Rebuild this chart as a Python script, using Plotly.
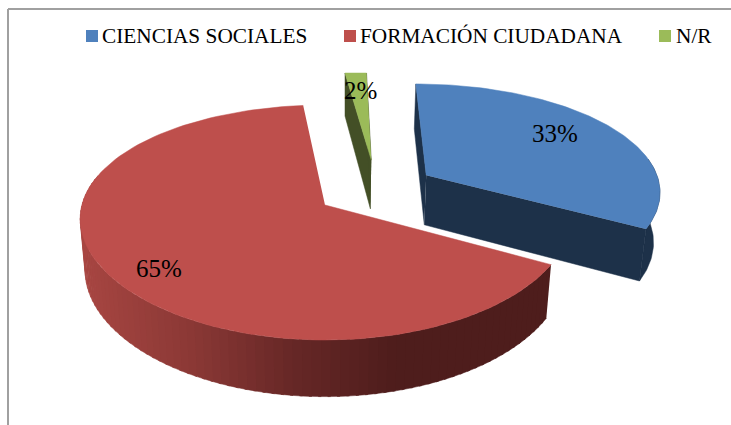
import numpy as np
import plotly.graph_objects as go

# Values (labels show them rounded)
categories = ["CIENCIAS SOCIALES", "FORMACIÓN CIUDADANA", "N/R"]
shares = [33.0, 65.4, 1.6]

top_colors = ["#4F81BD", "#BE4F4C", "#9BBB59"]
wall_colors = ["#1D3149", "#4E1D1C", "#434F26"]

# where each slice sits on the tilted disc (pull-out from the red apex)
pull_u = [0.43, 0.0, 0.2]
pull_v = [0.27, 0.0, 0.416]
radius = [0.98, 1.0, 1.0]
# the small slice looks wider in the source because of the 3D distortion
span_scale = [1.0, 1.0, 1.5]
clip_left = [0, 0, 345]
clip_top = [0, 0, 73]
clip_right = [731, 731, 372]

APEX_X, APEX_Y = 325, 205
F, G, H = 243, 114.9, 52
KX, KY, M = 0.12, 0.149, 0.02

legend_square_x = [92, 350, 665]
legend_text_x = [100, 358, 674]
LEGEND_Y = 36
label_x = [555, 159, 360]
label_y = [133, 268, 90]

FONT = "Liberation Serif"


def project(u, v, z, idx):
    u = np.asarray(u, dtype=float)
    v = np.asarray(v, dtype=float)
    sx = APEX_X + F * u / (1 + KX * v + M * z)
    sy = APEX_Y + (-G * v + H * z) / (1 + KY * v + M * z)
    sx = np.clip(sx, clip_left[idx], clip_right[idx])
    sy = np.maximum(sy, clip_top[idx])
    return sx, sy


def polygon(fig, xs, ys, color):
    fig.add_trace(go.Scatter(
        x=list(xs), y=list(ys), mode="lines", fill="toself",
        fillcolor=color, line=dict(color=color, width=0.5),
        hoverinfo="skip", showlegend=False,
    ))


def wall(fig, uu, vv, idx, color):
    x_top, y_top = project(uu, vv, 0, idx)
    x_bot, y_bot = project(uu, vv, 1, idx)
    polygon(fig, np.r_[x_top, x_bot[::-1]], np.r_[y_top, y_bot[::-1]], color)


def red_shade(x):
    # side of the red slice darkens from left to right
    stops_x = [85, 200, 300, 400]
    r = np.interp(x, stops_x, [0xA8, 0x8A, 0x66, 0x4E])
    g = np.interp(x, stops_x, [0x46, 0x38, 0x27, 0x1D])
    b = np.interp(x, stops_x, [0x42, 0x35, 0x26, 0x1C])
    return f"rgb({r:.0f},{g:.0f},{b:.0f})"


fig = go.Figure()

ends = np.cumsum(shares) / np.sum(shares) * 360
spans = np.array(shares) / np.sum(shares) * 360 * np.array(span_scale)
starts = ends - spans

# far slices first, red last
for idx in [2, 0, 1]:
    a0, a1 = np.radians(starts[idx]), np.radians(ends[idx])
    theta = np.linspace(a0, a1, 120)
    u0, v0, rad = pull_u[idx], pull_v[idx], radius[idx]
    rim_u, rim_v = u0 + rad * np.sin(theta), v0 + rad * np.cos(theta)

    if idx == 1:
        # rim in narrow strips for the gradient
        visible = np.radians(np.arange(ends[0], 285, 2.0))
        for t0, t1 in zip(visible[:-1], visible[1:]):
            tt = np.array([t0, t1 + np.radians(0.6)])
            xm, _ = project(np.sin(t0), np.cos(t0), 1, idx)
            wall(fig, np.sin(tt), np.cos(tt), idx, red_shade(float(xm)))
    else:
        if idx == 0:
            front = theta >= np.radians(80)
            wall(fig, rim_u[front], rim_v[front], idx, wall_colors[idx])
        for a in (a0, a1):
            wall(fig, [u0, u0 + rad * np.sin(a)], [v0, v0 + rad * np.cos(a)], idx, wall_colors[idx])

    xs, ys = project(np.r_[u0, rim_u], np.r_[v0, rim_v], 0, idx)
    polygon(fig, xs, ys, top_colors[idx])

# legend row
for name, color, sq_x, tx_x in zip(categories, top_colors, legend_square_x, legend_text_x):
    fig.add_trace(go.Scatter(
        x=[sq_x], y=[LEGEND_Y], mode="markers", name=name,
        marker=dict(symbol="square", size=12, color=color),
        hoverinfo="name", showlegend=False,
    ))
    fig.add_annotation(
        x=tx_x, y=LEGEND_Y, text=name, showarrow=False, xanchor="left", yanchor="middle",
        font=dict(family=FONT, size=21.3, color="#000000"),
    )

# percentage labels
for value, lx, ly in zip(shares, label_x, label_y):
    fig.add_annotation(
        x=lx, y=ly, text=f"{value:.0f}%", showarrow=False,
        font=dict(family=FONT, size=25, color="#000000"),
    )

# chart frame, only top and left show in the crop
fig.add_shape(type="line", x0=8, x1=8, y0=9, y1=425, line=dict(color="#A0A0A0", width=2))
fig.add_shape(type="line", x0=8, x1=731, y0=9, y1=9, line=dict(color="#A0A0A0", width=2))

fig.update_layout(
    width=731,
    height=425,
    paper_bgcolor="#FFFFFF",
    plot_bgcolor="#FFFFFF",
    margin=dict(l=0, r=0, t=0, b=0),
    showlegend=False,
    xaxis=dict(range=[0, 731], visible=False, fixedrange=True),
    yaxis=dict(range=[425, 0], visible=False, fixedrange=True),
)

# page margin would push the 731 px figure out of the window
fig.write_html("out.html", config={"displayModeBar": False},
               post_script="document.body.style.margin='0';")
